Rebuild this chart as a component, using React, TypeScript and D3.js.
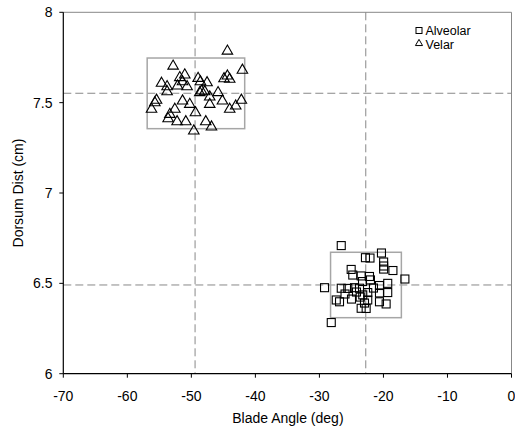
import React from "react";
import * as d3 from "d3";

// Velar (triangles)
const velarAngle = [-52.85, -44.37, -42.03, -54.66, -53.79, -51.81, -51.03, -51.38, -52.16, -50.67, -48.95, -48.58, -47.55, -44.9, -44.37, -44.01, -53.79, -55.44, -55.7, -56.22, -48.42, -47.91, -48.69, -45.83, -47.13, -51.38, -50.25, -52.58, -45.15, -42.19, -47.13, -44.01, -43.07, -49.36, -53.36, -53.63, -52.23, -50.87, -47.75, -46.86, -49.62];
const velarDorsum = [7.708, 7.791, 7.685, 7.613, 7.594, 7.644, 7.659, 7.621, 7.598, 7.594, 7.64, 7.621, 7.616, 7.638, 7.653, 7.635, 7.566, 7.519, 7.505, 7.469, 7.57, 7.566, 7.561, 7.561, 7.537, 7.515, 7.496, 7.469, 7.515, 7.519, 7.496, 7.469, 7.487, 7.45, 7.441, 7.417, 7.4, 7.4, 7.4, 7.371, 7.349];

// Alveolar (squares)
const alveolarAngle = [-26.59, -29.2, -28.15, -22.81, -22.1, -20.31, -19.97, -19.97, -19.97, -18.52, -16.65, -25.04, -24.79, -23.48, -22.18, -23.27, -22.03, -19.33, -20.62, -19.33, -20.62, -26.59, -25.57, -24.52, -23.74, -22.45, -26.0, -23.23, -27.37, -26.86, -23.63, -22.96, -22.45, -20.62, -19.58, -23.48, -22.7, -24.21, -21.56, -24.99];
const alveolarDorsum = [6.709, 6.476, 6.283, 6.642, 6.64, 6.668, 6.618, 6.596, 6.579, 6.571, 6.524, 6.577, 6.546, 6.541, 6.538, 6.51, 6.519, 6.5, 6.488, 6.449, 6.447, 6.473, 6.472, 6.476, 6.473, 6.449, 6.441, 6.436, 6.408, 6.398, 6.424, 6.391, 6.408, 6.398, 6.386, 6.362, 6.361, 6.452, 6.474, 6.413];

// Mean lines and spread boxes: [xMin, xMax, yMin, yMax]
const velarMean = [-49.42, 7.552];
const alveolarMean = [-22.76, 6.491];
const velarBox = [-56.9, -41.67, 7.356, 7.747];
const alveolarBox = [-28.26, -17.2, 6.31, 6.672];

const xTicks = [-70, -60, -50, -40, -30, -20, -10, 0];
const yTicks = [6, 6.5, 7, 7.5, 8];
const seriesNames = ["Alveolar", "Velar"];

const W = 515, H = 435;
const L = 63.3, R = 511.5, T = 12.3, B = 373.7;
const FONT = "Arial, 'Liberation Sans', sans-serif";

export default function App() {
  const x = d3.scaleLinear().domain([-70, 0]).range([L, R]);
  const y = d3.scaleLinear().domain([6, 8]).range([B, T]);
  const tri = d3.symbol().type(d3.symbolTriangle).size(48)()!;
  const triSmall = d3.symbol().type(d3.symbolTriangle).size(22)()!;
  const sq = 8;
  const gray = "#888";
  const dash = "8,4";

  const box = (b: number[], key: string) => (
    <rect key={key} x={x(b[0])} y={y(b[3])} width={x(b[1]) - x(b[0])} height={y(b[2]) - y(b[3])}
      fill="none" stroke="#a6a6a6" strokeWidth={1.5} />
  );
  const meanLines = (m: number[], key: string) => (
    <g key={key}>
      <line x1={x(m[0])} x2={x(m[0])} y1={T} y2={B} stroke={gray} strokeWidth={1} strokeDasharray={dash} />
      <line x1={L} x2={R} y1={y(m[1])} y2={y(m[1])} stroke={gray} strokeWidth={1} strokeDasharray={dash} />
    </g>
  );

  return (
    <div style={{ position: "absolute", left: 0, top: 0 }}>
      <svg width={W} height={H} style={{ display: "block", background: "#fff" }} fontFamily={FONT}>
        <rect x={0} y={0} width={W} height={H} fill="#fff" />
        {/* frame top/right */}
        <line x1={L} x2={R} y1={T} y2={T} stroke={gray} strokeWidth={1} />
        <line x1={R} x2={R} y1={T} y2={B} stroke={gray} strokeWidth={1} />
        {meanLines(velarMean, "vm")}
        {meanLines(alveolarMean, "am")}
        {box(velarBox, "vb")}
        {box(alveolarBox, "ab")}
        {velarAngle.map((a, i) => (
          <path key={"v" + i} d={tri} transform={`translate(${x(a)},${y(velarDorsum[i]) + 1})`}
            fill="none" stroke="#000" strokeWidth={1.1} />
        ))}
        {alveolarAngle.map((a, i) => (
          <rect key={"a" + i} x={x(a) - sq / 2} y={y(alveolarDorsum[i]) - sq / 2} width={sq} height={sq}
            fill="none" stroke="#000" strokeWidth={1.1} />
        ))}
        {/* axes */}
        <line x1={L} x2={L} y1={T} y2={B} stroke="#000" strokeWidth={1.2} />
        <line x1={L} x2={R} y1={B} y2={B} stroke="#000" strokeWidth={1.2} />
        {xTicks.map((t) => (
          <g key={"xt" + t}>
            <line x1={x(t)} x2={x(t)} y1={B} y2={B + 4} stroke="#000" />
            <text x={x(t)} y={400.5} textAnchor="middle" fontSize={14}>{t}</text>
          </g>
        ))}
        {yTicks.map((t) => (
          <g key={"yt" + t}>
            <line x1={L - 4} x2={L} y1={y(t)} y2={y(t)} stroke="#000" />
            <text x={52.5} y={y(t) + 5} textAnchor="end" fontSize={14}>{t}</text>
          </g>
        ))}
        <text x={(L + R) / 2 + 0.5} y={423} textAnchor="middle" fontSize={14}>Blade Angle (deg)</text>
        <text transform={`translate(22.5,${(T + B) / 2}) rotate(-90)`} textAnchor="middle" fontSize={14}>Dorsum Dist (cm)</text>
        {/* legend */}
        <rect x={416} y={27.5} width={6} height={6} fill="none" stroke="#000" strokeWidth={1} />
        <text x={425.5} y={35} fontSize={12.5}>{seriesNames[0]}</text>
        <path d={triSmall} transform="translate(419,43.5)" fill="none" stroke="#000" strokeWidth={1} />
        <text x={425.5} y={49} fontSize={12.5}>{seriesNames[1]}</text>
      </svg>
    </div>
  );
}
